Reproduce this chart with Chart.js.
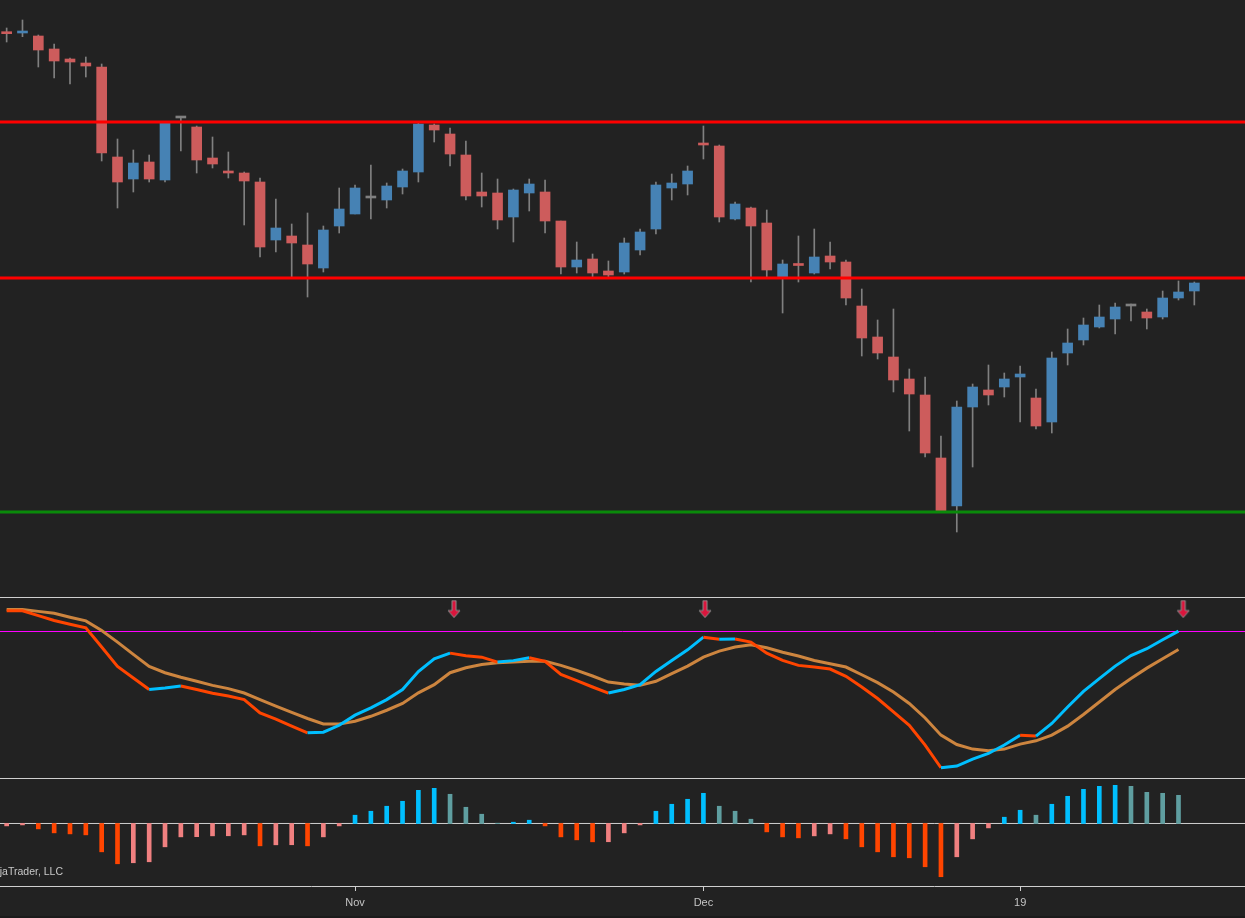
<!DOCTYPE html>
<html>
<head>
<meta charset="utf-8">
<script src="https://cdn.jsdelivr.net/npm/chart.js@4.4.1/dist/chart.umd.min.js"></script>
<style>
  html, body { margin: 0; padding: 0; background: #222222; }
  #wrap { position: relative; width: 1245px; height: 918px; overflow: hidden; background: #222222; }
  .pane { position: absolute; left: 0; width: 1245px; box-sizing: border-box; }
  #pricePane { top: 0; height: 597px; }
  #stochPane { top: 597px; height: 181px; border-top: 1px solid #cfcfcf; }
  #histPane { top: 778px; height: 138px; border-top: 1px solid #cfcfcf; }
  #foot { top: 916px; height: 2px; background: #1b1b1b; }
  #credit { position: absolute; left: -16px; top: 865px; font: 10.5px "Liberation Sans", Arial, sans-serif; color: #c8c8c8; white-space: nowrap; }
  canvas { display: block; }
</style>
</head>
<body>
<div id="wrap">
  <div class="pane" id="pricePane"><canvas id="price" width="1245" height="597"></canvas></div>
  <div class="pane" id="stochPane"><canvas id="stoch" width="1245" height="180"></canvas></div>
  <div class="pane" id="histPane"><canvas id="hist" width="1245" height="137"></canvas></div>
  <div class="pane" id="foot"></div>
  <div id="credit">NinjaTrader, LLC</div>
</div>
<script>
// price bars, one per session
const opens = [
  146.70, 146.7, 146.4, 145.1, 144.1, 143.7, 143.3, 134.3, 132.1, 133.8,
  132.0, 138.2, 137.3, 134.2, 132.9, 132.7, 131.8, 126.0, 126.4, 125.5,
  123.2, 127.4, 128.6, 130.2, 130.0, 131.3, 132.8, 137.5, 136.6, 134.5,
  130.8, 130.7, 128.3, 130.7, 130.8, 127.9, 123.3, 124.1, 122.9, 122.8,
  125.0, 127.1, 131.2, 131.6, 135.65, 135.4, 128.1, 129.2, 127.7, 122.3,
  123.6, 122.7, 124.4, 123.8, 119.4, 116.3, 114.3, 112.1, 110.5, 104.2,
  99.4, 109.3, 111.0, 111.3, 112.3, 110.2, 107.8, 114.7, 116.0, 117.3,
  118.1, 119.4, 118.8, 118.3, 120.2, 120.9
];
const highs = [
  147.2, 148.0, 146.5, 145.6, 144.2, 144.3, 143.6, 136.1, 135.0, 134.5,
  137.8, 138.2, 137.4, 136.3, 134.8, 132.8, 132.2, 130.1, 127.6, 128.7,
  127.4, 131.2, 131.5, 133.5, 131.7, 133.1, 137.8, 137.6, 137.2, 135.9,
  132.7, 132.1, 131.1, 132.1, 132.0, 127.9, 125.8, 124.6, 123.9, 126.2,
  127.1, 131.8, 132.6, 133.4, 137.4, 135.5, 129.8, 129.3, 129.0, 124.0,
  126.4, 127.1, 125.8, 124.0, 121.1, 118.0, 119.1, 113.1, 112.3, 106.4,
  109.9, 111.6, 113.5, 112.7, 113.4, 111.1, 114.8, 117.1, 118.2, 119.5,
  119.7, 119.6, 119.1, 120.9, 121.9, 121.8
];
const lows = [
  145.8, 146.33, 143.3, 142.2, 141.6, 142.3, 133.9, 129.2, 130.8, 131.8,
  131.8, 134.9, 132.7, 133.2, 132.2, 127.5, 124.3, 124.8, 122.3, 120.3,
  122.8, 126.7, 128.6, 128.1, 129.2, 130.6, 131.8, 135.8, 133.4, 130.0,
  129.3, 127.1, 125.8, 128.9, 126.7, 122.6, 122.7, 122.3, 122.3, 122.6,
  124.5, 126.6, 130.0, 130.5, 134.1, 127.8, 128.0, 121.8, 122.3, 118.7,
  121.8, 122.6, 123.1, 119.5, 114.4, 114.1, 110.8, 106.9, 104.3, 98.9,
  96.8, 103.3, 109.5, 110.3, 107.8, 107.1, 106.7, 113.5, 115.5, 117.2,
  116.6, 117.9, 117.1, 118.1, 120.0, 119.5
];
const closes = [
  146.63, 146.9, 145.0, 143.9, 143.8, 143.4, 134.7, 131.8, 133.7, 132.1,
  137.7, 138.2, 134.0, 133.6, 132.7, 131.9, 125.3, 127.2, 125.7, 123.6,
  127.0, 129.1, 131.2, 130.2, 131.4, 132.9, 137.6, 137.0, 134.6, 130.4,
  130.4, 128.0, 131.0, 131.6, 127.9, 123.3, 124.0, 122.7, 122.5, 125.7,
  126.8, 131.5, 131.7, 132.9, 135.5, 128.3, 129.6, 127.4, 123.0, 123.6,
  123.45, 124.3, 123.8, 120.2, 116.2, 114.7, 112.0, 110.6, 104.7, 98.9,
  109.3, 111.3, 110.5, 112.1, 112.6, 107.4, 114.2, 115.7, 117.5, 118.3,
  119.3, 119.4, 118.2, 120.2, 120.8, 121.7
];

// horizontal levels on the price pane
const resistance = [137.8, 122.2];
const support = [98.8];

// stochastic pane
const stochK = [
  91.4, 91.3, 88.7, 86.0, 84.0, 82.0, 71.5, 60.9, 54.6, 48.3,
  49.1, 50.2, 48.3, 46.3, 44.8, 42.8, 35.5, 32.1, 28.3, 24.7,
  25.0, 28.8, 34.3, 38.3, 42.8, 48.3, 58.1, 65.1, 68.2, 66.8,
  66.0, 63.3, 64.1, 65.7, 63.7, 56.6, 53.2, 49.7, 46.4, 48.3,
  51.0, 58.2, 64.2, 70.0, 76.9, 75.8, 75.9, 74.2, 68.2, 64.2,
  61.5, 60.6, 59.5, 55.5, 49.7, 43.4, 36.1, 28.8, 18.0, 5.6,
  6.5, 10.3, 13.4, 18.0, 23.4, 22.9, 29.8, 38.8, 47.3, 54.3,
  61.1, 66.9, 70.6, 75.5, 80.2
];
const stochD = [
  92.0, 92.0, 91.0, 90.0, 87.8, 85.8, 80.5, 74.2, 67.5, 60.9,
  57.5, 55.0, 52.8, 50.6, 48.8, 46.4, 42.8, 39.3, 35.8, 32.5,
  29.5, 29.5, 31.0, 33.7, 37.0, 40.7, 46.5, 51.0, 57.5, 60.2,
  62.0, 63.0, 63.3, 63.8, 63.7, 61.5, 58.8, 55.7, 52.4, 51.3,
  50.6, 52.8, 57.0, 61.1, 66.0, 69.3, 71.5, 72.8, 71.1, 68.7,
  66.6, 64.2, 62.4, 60.6, 56.4, 52.1, 47.0, 40.7, 32.8, 23.4,
  18.3, 15.8, 14.9, 15.8, 18.5, 20.3, 23.4, 28.3, 34.7, 41.5,
  48.3, 54.3, 60.0, 65.1, 70.2
];
const overbought = 80;
const signalAt = [28.25, 44.1, 74.3];
const signalLevel = 92;

// histogram pane
const histo = [
  -0.8, -0.47, -1.8, -3.13, -3.47, -3.8, -9.47, -13.47, -13.13, -12.8,
  -7.8, -4.47, -4.4, -4.13, -4.1, -3.8, -7.47, -7.13, -7.1, -7.47,
  -4.47, -0.8, 2.77, 4.1, 5.77, 7.43, 11.1, 11.77, 9.77, 5.43,
  3.1, 0.1, 0.43, 1.1, -0.8, -4.47, -5.47, -6.13, -6.1, -3.13,
  -0.47, 4.1, 6.43, 8.1, 10.1, 5.77, 4.1, 1.43, -2.8, -4.47,
  -4.8, -4.13, -3.47, -5.13, -7.8, -9.47, -11.13, -11.47, -14.47, -17.8,
  -11.13, -5.13, -1.47, 2.1, 4.43, 2.77, 6.43, 9.1, 11.43, 12.43,
  12.77, 12.43, 10.43, 10.1, 9.43
];

// date axis
const tickPos = [22, 44, 64];
const tickText = ['Nov', 'Dec', '19'];

const X_MIN = -0.42, X_MAX = 78.2;
const UP = '#4682b4', DOWN = '#cd5c5c', WICK = '#808080';

Chart.defaults.font.family = '"Liberation Sans", Arial, sans-serif';
Chart.defaults.animation = false;

function baseOptions(yMin, yMax) {
  return {
    responsive: false,
    animation: false,
    events: [],
    layout: { padding: 0, autoPadding: false },
    plugins: { legend: { display: false }, tooltip: { enabled: false } },
    scales: {
      x: { type: 'linear', min: X_MIN, max: X_MAX, offset: false, display: false },
      y: { type: 'linear', min: yMin, max: yMax, display: false }
    }
  };
}

function hline(value, color, width) {
  return {
    type: 'line',
    data: [{ x: X_MIN - 1, y: value }, { x: X_MAX + 1, y: value }],
    borderColor: color,
    borderWidth: width,
    pointRadius: 0
  };
}

// ---- price pane ----
const bodyColors = opens.map((o, i) => closes[i] > o ? UP : (closes[i] < o ? DOWN : WICK));
new Chart(document.getElementById('price'), {
  type: 'bar',
  data: {
    datasets: [
      ...resistance.map(v => hline(v, '#ff0000', 3)),
      ...support.map(v => hline(v, '#0a8a0a', 3)),
      {
        type: 'bar',
        data: opens.map((o, i) => ({ x: i, y: [o, closes[i]] })),
        backgroundColor: bodyColors,
        barThickness: 10,
        minBarLength: 2,
        grouped: false
      },
      {
        type: 'bar',
        data: lows.map((l, i) => ({ x: i, y: [l, highs[i]] })),
        backgroundColor: WICK,
        barThickness: 1,
        grouped: false
      }
    ]
  },
  options: baseOptions(90.3, 150)
});

// ---- stochastic pane ----
function arrowIcon() {
  const c = document.createElement('canvas');
  c.width = 14; c.height = 20;
  const g = c.getContext('2d');
  g.beginPath();
  g.moveTo(5, 1); g.lineTo(9, 1); g.lineTo(9, 11); g.lineTo(13, 11);
  g.lineTo(7, 18); g.lineTo(1, 11); g.lineTo(5, 11); g.closePath();
  g.fillStyle = '#dc143c';
  g.fill();
  g.strokeStyle = '#8c8c8c';
  g.lineWidth = 1;
  g.stroke();
  return c;
}

new Chart(document.getElementById('stoch'), {
  type: 'line',
  data: {
    datasets: [
      {
        data: signalAt.map(x => ({ x, y: signalLevel })),
        showLine: false,
        pointStyle: arrowIcon(),
        pointRadius: 8
      },
      {
        data: stochK.map((v, i) => ({ x: i, y: v })),
        borderWidth: 3,
        pointRadius: 0,
        tension: 0,
        borderColor: '#00bfff',
        segment: {
          borderColor: ctx => ctx.p1.parsed.y >= ctx.p0.parsed.y ? '#00bfff' : '#ff4500'
        }
      },
      {
        data: stochD.map((v, i) => ({ x: i, y: v })),
        borderWidth: 3,
        pointRadius: 0,
        tension: 0,
        borderColor: '#cd853f'
      },
      hline(overbought, '#ff00ff', 1)
    ]
  },
  options: baseOptions(0, 98.3)
});

// ---- histogram pane ----
const histColors = histo.map((v, i) => {
  const prev = i > 0 ? histo[i - 1] : v;
  if (v >= 0) return v >= prev ? '#00bfff' : '#5f9ea0';
  return v < prev ? '#ff4500' : '#f08080';
});

const histOpts = baseOptions(-20.9, 14.88);
histOpts.scales.x = {
  type: 'linear', min: X_MIN, max: X_MAX, offset: false, display: true, position: 'bottom',
  afterBuildTicks: scale => { scale.ticks = tickPos.map(v => ({ value: v })); },
  afterFit: scale => { scale.height = 30; },
  grid: { offset: false, drawOnChartArea: false, drawTicks: true, tickLength: 5, color: '#cfcfcf' },
  border: { display: true, color: '#cfcfcf', width: 1 },
  ticks: {
    autoSkip: false, maxRotation: 0, padding: 5,
    color: '#c4c4c4', font: { size: 11 },
    callback: v => tickText[tickPos.indexOf(v)] ?? ''
  }
};

new Chart(document.getElementById('hist'), {
  type: 'bar',
  data: {
    datasets: [
      {
        type: 'bar',
        data: histo.map((v, i) => ({ x: i, y: v })),
        backgroundColor: histColors,
        barThickness: 4,
        grouped: false
      },
      hline(0, '#cfcfcf', 1)
    ]
  },
  options: histOpts
});
</script>
</body>
</html>
